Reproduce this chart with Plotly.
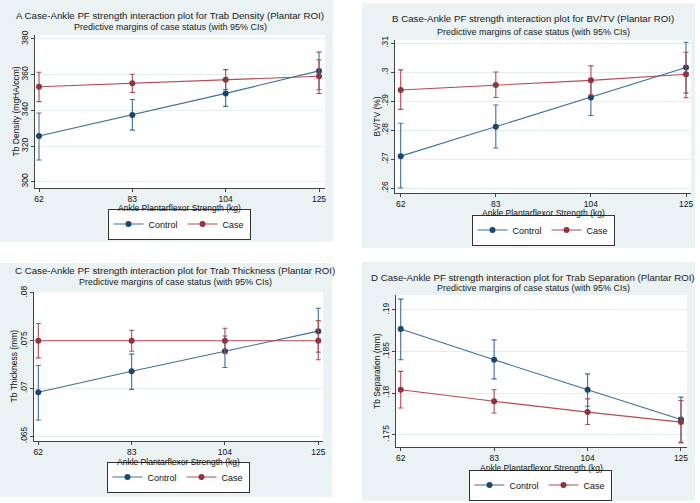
import plotly.graph_objects as go

# ---------------- data ----------------
x_strength = [62, 83, 104, 125]
x_tick_labels = ["62", "83", "104", "125"]
series_names = ["Control", "Case"]

# Panel A: Trab Density
a_control = [325.6, 337.4, 349.5, 362.1]
a_control_lo = [312.2, 328.9, 342.2, 351.5]
a_control_hi = [338.5, 346.1, 356.8, 372.6]
a_case = [353.2, 355.2, 357.1, 359.1]
a_case_lo = [344.9, 350.0, 351.7, 349.4]
a_case_hi = [361.3, 360.2, 362.8, 368.3]
a_ticks = [300, 320, 340, 360, 380]
a_tick_labels = ["300", "320", "340", "360", "380"]

# Panel B: BV/TV
b_control = [0.2711, 0.2812, 0.2913, 0.3016]
b_control_lo = [0.2601, 0.2739, 0.2851, 0.2928]
b_control_hi = [0.2824, 0.2887, 0.2975, 0.3103]
b_case = [0.2939, 0.2956, 0.2972, 0.2993]
b_case_lo = [0.2872, 0.2913, 0.2922, 0.2912]
b_case_hi = [0.3008, 0.3001, 0.3022, 0.3069]
b_ticks = [0.26, 0.27, 0.28, 0.29, 0.30, 0.31]
b_tick_labels = [".26", ".27", ".28", ".29", ".3", ".31"]

# Panel C: Trab Thickness
c_control = [0.0696, 0.0718, 0.0739, 0.0760]
c_control_lo = [0.0667, 0.0699, 0.0722, 0.0738]
c_control_hi = [0.0724, 0.0736, 0.0755, 0.0784]
c_case = [0.0750, 0.0750, 0.0750, 0.0750]
c_case_lo = [0.0732, 0.0739, 0.0737, 0.0730]
c_case_hi = [0.0768, 0.0761, 0.0763, 0.0771]
c_ticks = [0.065, 0.070, 0.075, 0.080]
c_tick_labels = [".065", ".07", ".075", ".08"]

# Panel D: Trab Separation
d_control = [0.1877, 0.1840, 0.1804, 0.1768]
d_control_lo = [0.1840, 0.1817, 0.1784, 0.1741]
d_control_hi = [0.1913, 0.1864, 0.1823, 0.1795]
d_case = [0.1804, 0.1790, 0.1777, 0.1765]
d_case_lo = [0.1782, 0.1776, 0.1762, 0.1740]
d_case_hi = [0.1826, 0.1804, 0.1793, 0.1791]
d_ticks = [0.175, 0.180, 0.185, 0.190]
d_tick_labels = [".175", ".18", ".185", ".19"]

titles = [
    "A Case-Ankle PF strength interaction plot for Trab Density (Plantar ROI)",
    "B Case-Ankle PF strength interaction plot for BV/TV (Plantar ROI)",
    "C Case-Ankle PF strength interaction plot for Trab Thickness (Plantar ROI)",
    "D Case-Ankle PF strength interaction plot for Trab Separation (Plantar ROI)",
]
subtitle = "Predictive margins of case status (with 95% CIs)"
x_title = "Ankle Plantarflexor Strength (kg)"
y_titles = ["Tb Density (mgHA/ccm)", "BV/TV (%)", "Tb Thickness (mm)", "Tb Separation (mm)"]

# ---------------- layout helpers ----------------
W, H = 700, 503
FONT = "Liberation Sans, Arial, sans-serif"
BG = "#eaf2f3"
MARK_COLORS = ["#1a476f", "#90353b"]
LINE_COLORS = ["#3f6e9c", "#b04a54"]

def px(x):
    return x / W

def py(y):
    return 1 - y / H

# leg = (center x, center y) of each legend box
panels = [
    dict(bg=(0, 0, 333, 242), plot=(35, 35, 325, 188), xr=[61.1, 126.35], yr=[296.5, 382.2],
         ty=15, sy=27, tx=170, xty=207.5, ytx=15, leg=(179, 224)),
    dict(bg=(362, 3, 695, 248), plot=(395, 40, 691, 193), xr=[60.74, 126.1], yr=[0.2584, 0.3111],
         ty=18, sy=32, tx=533, xty=212.5, ytx=376, leg=(543, 230)),
    dict(bg=(0, 263, 332, 497), plot=(34, 292, 323, 441), xr=[61.03, 126.06], yr=[0.0645, 0.0801],
         ty=270, sy=282, tx=175, xty=461.5, ytx=13, leg=(178, 477)),
    dict(bg=(362, 262, 695, 501), plot=(396, 295, 687, 447), xr=[60.94, 126.35], yr=[0.1735, 0.1918],
         ty=277, sy=288, tx=533, xty=467.5, ytx=377, leg=(540, 485)),
]

data_sets = [
    (a_control, a_control_lo, a_control_hi, a_case, a_case_lo, a_case_hi, a_ticks, a_tick_labels),
    (b_control, b_control_lo, b_control_hi, b_case, b_case_lo, b_case_hi, b_ticks, b_tick_labels),
    (c_control, c_control_lo, c_control_hi, c_case, c_case_lo, c_case_hi, c_ticks, c_tick_labels),
    (d_control, d_control_lo, d_control_hi, d_case, d_case_lo, d_case_hi, d_ticks, d_tick_labels),
]

fig = go.Figure()
layout = dict(
    width=W, height=H, margin=dict(l=0, r=0, t=0, b=0, pad=0, autoexpand=False),
    paper_bgcolor="white", plot_bgcolor="white",
    font=dict(family=FONT, size=9, color="#111111"),
    shapes=[], annotations=[],
)

for i, (p, ds) in enumerate(zip(panels, data_sets)):
    n = "" if i == 0 else str(i + 1)
    xa, ya = "x" + n, "y" + n
    leg = "legend" + n
    ctrl, ctrl_lo, ctrl_hi, case, case_lo, case_hi, ticks, tick_labels = ds
    for k, (vals, lo, hi) in enumerate([(ctrl, ctrl_lo, ctrl_hi), (case, case_lo, case_hi)]):
        fig.add_trace(go.Scatter(
            x=x_strength, y=vals, mode="lines+markers", name=series_names[k],
            xaxis=xa, yaxis=ya, legend=leg,
            line=dict(color=LINE_COLORS[k], width=1.1),
            marker=dict(color=MARK_COLORS[k], size=6),
            error_y=dict(type="data", symmetric=False,
                         array=[h - v for h, v in zip(hi, vals)],
                         arrayminus=[v - l for v, l in zip(vals, lo)],
                         color=LINE_COLORS[k], thickness=1.1, width=2.5),
        ))
    x0, y0, x1, y1 = p["plot"]
    layout["xaxis" + n] = dict(
        domain=[px(x0), px(x1)], anchor=ya, range=p["xr"], automargin=False,
        tickmode="array", tickvals=x_strength, ticktext=x_tick_labels,
        ticks="outside", ticklen=3, tickcolor="#444", showgrid=False, zeroline=False,
        showline=True, linecolor="#444", linewidth=1, tickfont=dict(size=8.5),
    )
    layout["yaxis" + n] = dict(
        domain=[py(y1), py(y0)], anchor=xa, range=p["yr"], automargin=False,
        tickmode="array", tickvals=ticks, ticktext=tick_labels, tickangle=-90,
        ticks="outside", ticklen=3, tickcolor="#444", showgrid=True, gridcolor="#e4edef",
        gridwidth=1, zeroline=False, showline=True, linecolor="#444", linewidth=1,
        tickfont=dict(size=8.5),
    )
    bx0, by0, bx1, by1 = p["bg"]
    layout["shapes"].append(dict(type="rect", xref="paper", yref="paper",
                                 x0=px(bx0), x1=px(bx1), y0=py(by1), y1=py(by0),
                                 fillcolor=BG, line=dict(width=0), layer="below"))
    layout["shapes"].append(dict(type="rect", xref="paper", yref="paper",
                                 x0=px(x0), x1=px(x1), y0=py(y1), y1=py(y0),
                                 fillcolor="white", line=dict(width=0), layer="below"))
    layout["annotations"] += [
        dict(text=titles[i], xref="paper", yref="paper", x=px(p["tx"]), y=py(p["ty"]),
             showarrow=False, xanchor="center", yanchor="middle", font=dict(size=9.7, color="#1a1a1a")),
        dict(text=subtitle, xref="paper", yref="paper", x=px(p["tx"]), y=py(p["sy"]),
             showarrow=False, xanchor="center", yanchor="middle", font=dict(size=9, color="#1a1a1a")),
        dict(text=x_title, xref="paper", yref="paper", x=px((x0 + x1) / 2), y=py(p["xty"]),
             showarrow=False, xanchor="center", yanchor="middle", font=dict(size=8.5)),
        dict(text=y_titles[i], xref="paper", yref="paper", x=px(p["ytx"]), y=py((y0 + y1) / 2),
             showarrow=False, xanchor="center", yanchor="middle", textangle=-90, font=dict(size=8.5)),
    ]
    lx, ly = p["leg"]
    layout[leg] = dict(orientation="h", x=px(lx), y=py(ly), xanchor="center", yanchor="middle",
                       bgcolor="white", bordercolor="#333", borderwidth=1,
                       font=dict(size=9), itemwidth=30, tracegroupgap=0)

fig.update_layout(**layout)
fig.write_html("out.html", config={"displayModeBar": False},
               post_script="document.body.style.margin='0';document.body.style.overflow='hidden';")
